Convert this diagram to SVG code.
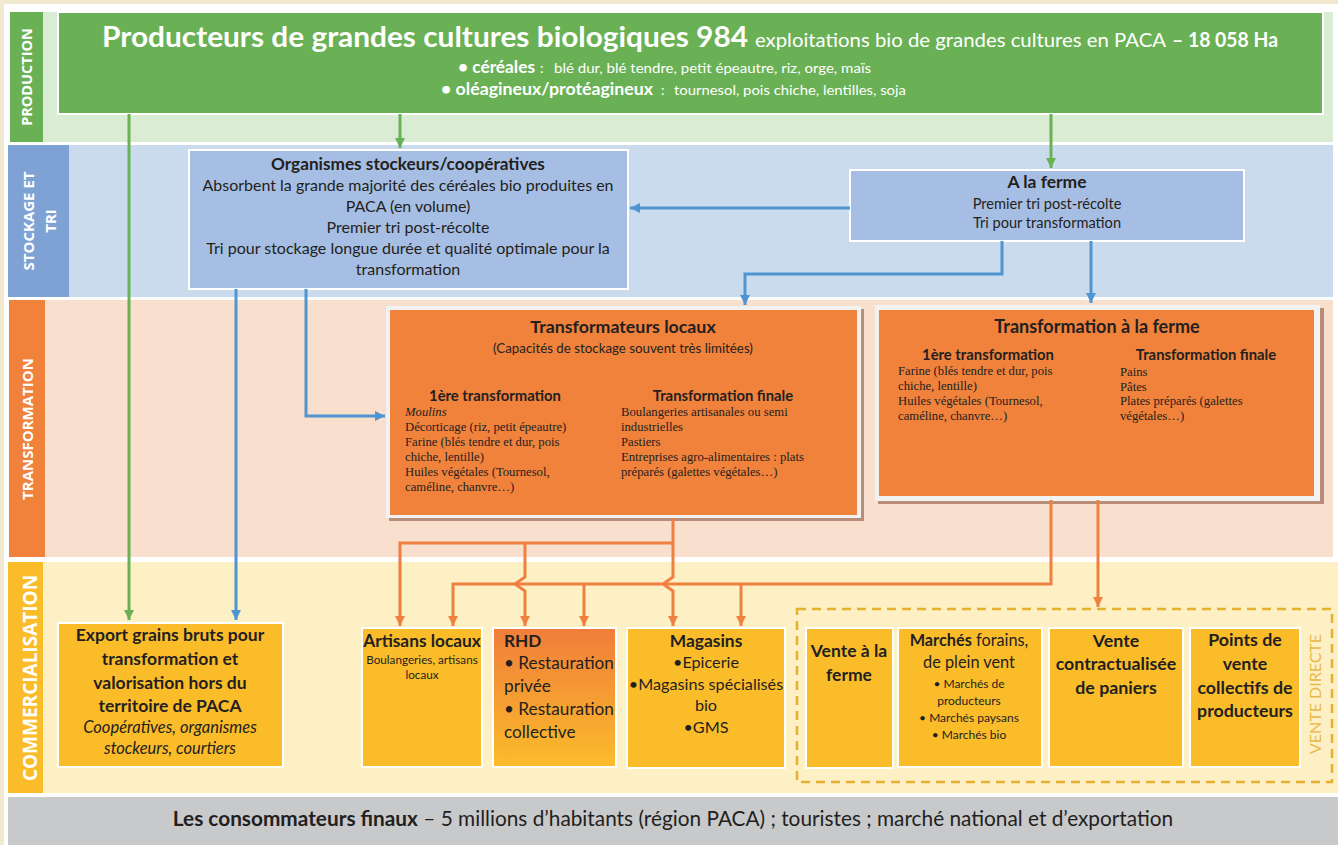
<svg xmlns="http://www.w3.org/2000/svg" width="1338" height="845" viewBox="0 0 1338 845">
<defs>
<style>
.sans{font-family:Lato,"Open Sans","Liberation Sans",sans-serif;fill:#231f20}
.w{fill:#ffffff}
.serif{font-family:"Liberation Serif","Times New Roman",serif;fill:#231f20;font-size:12.7px}
.b{font-weight:bold}
.lbl{font-family:"Open Sans","Liberation Sans",sans-serif;fill:#ffffff;text-anchor:middle;font-weight:bold}
.c{text-anchor:middle}
.box{stroke:#ffffff;stroke-width:2}
.g{stroke:#6ab155;stroke-width:3;fill:none}
.bl{stroke:#4e95d2;stroke-width:3;fill:none}
.o{stroke:#f08040;stroke-width:3;fill:none}
</style>
<marker id="ag" markerUnits="userSpaceOnUse" markerWidth="12" markerHeight="12" refX="10" refY="5" orient="auto"><path d="M0,0 L10,5 L0,10 Z" fill="#6ab155"/></marker>
<marker id="ab" markerUnits="userSpaceOnUse" markerWidth="12" markerHeight="12" refX="10" refY="5" orient="auto"><path d="M0,0 L10,5 L0,10 Z" fill="#4e95d2"/></marker>
<marker id="ao" markerUnits="userSpaceOnUse" markerWidth="12" markerHeight="12" refX="10" refY="5" orient="auto"><path d="M0,0 L10,5 L0,10 Z" fill="#f08040"/></marker>
<linearGradient id="rhd" x1="0" y1="0" x2="0" y2="1"><stop offset="0" stop-color="#f07d3a"/><stop offset="1" stop-color="#fbbc2a"/></linearGradient>
</defs>

<!-- background -->
<rect x="0" y="0" width="1338" height="845" fill="#f2ead0"/>
<rect x="4" y="4" width="1334" height="841" fill="#ffffff"/>

<!-- bands -->
<g id="band-production">
<rect x="43" y="12" width="1290" height="130" fill="#dbecd5"/>
<rect x="10" y="12" width="33" height="130" fill="#6ab155"/>
<text class="lbl" font-size="14.5" transform="translate(32,77) rotate(-90)">PRODUCTION</text>
</g>
<g id="band-stockage">
<rect x="69" y="145" width="1264" height="152" fill="#cbdbee"/>
<rect x="8" y="145" width="61" height="152" fill="#7fa2d5"/>
<text class="lbl" font-size="15" transform="translate(34,221) rotate(-90)">STOCKAGE ET</text>
<text class="lbl" font-size="15" transform="translate(56,221) rotate(-90)">TRI</text>
</g>
<g id="band-transformation">
<rect x="45" y="300" width="1288" height="257" fill="#f9dfcd"/>
<rect x="9" y="300" width="36" height="257" fill="#f0823c"/>
<text class="lbl" font-size="15" transform="translate(33,429) rotate(-90)">TRANSFORMATION</text>
</g>
<g id="band-commercialisation">
<rect x="43" y="562" width="1295" height="231" fill="#fdf0c5"/>
<rect x="8" y="562" width="35" height="231" fill="#fbbc2a"/>
<text class="lbl" font-size="19" transform="translate(37,678) rotate(-90)">COMMERCIALISATION</text>
</g>

<!-- production header -->
<g id="producteurs">
<rect x="58" y="12" width="1265" height="102" fill="#6ab155" class="box"/>
<text class="sans w b" x="102" y="47" font-size="28" textLength="646" lengthAdjust="spacingAndGlyphs">Producteurs de grandes cultures biologiques  984</text>
<text class="sans w" x="755" y="47" font-size="20" textLength="411" lengthAdjust="spacingAndGlyphs">exploitations bio de grandes cultures en PACA</text>
<text class="sans w b" x="1172" y="47" font-size="20" textLength="106" lengthAdjust="spacingAndGlyphs">– 18 058 Ha</text>
<text class="sans w b" x="458" y="73" font-size="16.5" textLength="77" lengthAdjust="spacingAndGlyphs">• céréales</text>
<text class="sans w" x="540" y="73" font-size="14">:</text>
<text class="sans w" x="554" y="73" font-size="14" textLength="317" lengthAdjust="spacingAndGlyphs">blé dur, blé tendre, petit épeautre, riz, orge, maïs</text>
<text class="sans w b" x="441" y="95" font-size="16.5" textLength="212" lengthAdjust="spacingAndGlyphs">• oléagineux/protéagineux</text>
<text class="sans w" x="661" y="95" font-size="14">:</text>
<text class="sans w" x="674" y="95" font-size="14" textLength="232" lengthAdjust="spacingAndGlyphs">tournesol, pois chiche, lentilles, soja</text>
</g>

<!-- stockage -->
<g id="organismes">
<rect x="189" y="150" width="439" height="139" fill="#a6bee3" class="box"/>
<g class="sans c" font-size="16">
<text x="408" y="170" class="b" font-size="17.2">Organismes stockeurs/coopératives</text>
<text x="408" y="191">Absorbent la grande majorité des céréales bio produites en</text>
<text x="408" y="212">PACA (en volume)</text>
<text x="408" y="233">Premier tri post-récolte</text>
<text x="408" y="254">Tri pour stockage longue durée et qualité optimale pour la</text>
<text x="408" y="275">transformation</text>
</g>
</g>
<g id="a-la-ferme">
<rect x="850" y="170" width="394" height="71" fill="#a6bee3" class="box"/>
<g class="sans c" font-size="14.6">
<text x="1047" y="188" class="b" font-size="17.5">A la ferme</text>
<text x="1047" y="209">Premier tri post-récolte</text>
<text x="1047" y="228">Tri pour transformation</text>
</g>
</g>

<!-- transformation -->
<g id="transformateurs-locaux">
<rect x="389" y="309" width="475" height="212" fill="#b98e78"/>
<rect x="386" y="306" width="475" height="212" fill="#f2f2f2"/>
<rect x="390" y="310" width="467" height="205" fill="#f0823c"/>
<g class="sans c">
<text x="623" y="333" class="b" font-size="17.8">Transformateurs locaux</text>
<text x="623" y="353" font-size="13.3">(Capacités de stockage souvent très limitées)</text>
<text x="495" y="401" class="b" font-size="14.8">1ère transformation</text>
<text x="723" y="401" class="b" font-size="14.8">Transformation finale</text>
</g>
<g class="serif">
<text x="405" y="416" font-style="italic">Moulins</text>
<text x="405" y="431">Décorticage (riz, petit épeautre)</text>
<text x="405" y="446">Farine (blés tendre et dur, pois</text>
<text x="405" y="461">chiche, lentille)</text>
<text x="405" y="476">Huiles végétales (Tournesol,</text>
<text x="405" y="491">caméline, chanvre…)</text>
<text x="621" y="416">Boulangeries artisanales ou semi</text>
<text x="621" y="431">industrielles</text>
<text x="621" y="446">Pastiers</text>
<text x="621" y="461">Entreprises agro-alimentaires : plats</text>
<text x="621" y="476">préparés (galettes végétales…)</text>
</g>
</g>
<g id="transformation-ferme">
<rect x="878" y="308" width="446" height="196" fill="#b98e78"/>
<rect x="875" y="305" width="445" height="196" fill="#f2f2f2"/>
<rect x="879" y="310" width="435" height="186" fill="#f0823c"/>
<g class="sans c">
<text x="1097" y="333" class="b" font-size="18">Transformation à la ferme</text>
<text x="988" y="360" class="b" font-size="14.8">1ère transformation</text>
<text x="1206" y="360" class="b" font-size="14.8">Transformation finale</text>
</g>
<g class="serif">
<text x="898" y="375">Farine (blés tendre et dur, pois</text>
<text x="898" y="390">chiche, lentille)</text>
<text x="898" y="405">Huiles végétales (Tournesol,</text>
<text x="898" y="420">caméline, chanvre…)</text>
<text x="1120" y="376">Pains</text>
<text x="1120" y="391">Pâtes</text>
<text x="1120" y="405">Plates préparés (galettes</text>
<text x="1120" y="420">végétales…)</text>
</g>
</g>

<!-- commercialisation -->
<g id="export">
<rect x="58" y="623" width="225" height="144" fill="#fbbc2a" class="box"/>
<g class="sans c b" font-size="17.5">
<text x="170" y="641">Export grains bruts pour</text>
<text x="170" y="665">transformation et</text>
<text x="170" y="689">valorisation hors du</text>
<text x="170" y="712">territoire de PACA</text>
</g>
<g class="sans c" font-size="16.5" font-style="italic">
<text x="170" y="733">Coopératives, organismes</text>
<text x="170" y="754">stockeurs, courtiers</text>
</g>
</g>
<g id="artisans">
<rect x="362" y="628" width="120" height="139" fill="#fbbc2a" class="box"/>
<text class="sans c b" x="422" y="647" font-size="17.3">Artisans locaux</text>
<text class="sans c" x="422" y="664" font-size="11.7">Boulangeries, artisans</text>
<text class="sans c" x="422" y="679" font-size="11.7">locaux</text>
</g>
<g id="rhd">
<rect x="493" y="628" width="123" height="139" fill="url(#rhd)" class="box"/>
<g class="sans" font-size="17.2">
<text x="504" y="647" class="b">RHD</text>
<text x="504" y="669">• Restauration</text>
<text x="504" y="692">privée</text>
<text x="504" y="715">• Restauration</text>
<text x="504" y="738">collective</text>
</g>
</g>
<g id="magasins">
<rect x="627" y="628" width="158" height="140" fill="#fbbc2a" class="box"/>
<g class="sans c" font-size="16.2">
<text x="706" y="647" class="b" font-size="17.4">Magasins</text>
<text x="706" y="668">•Epicerie</text>
<text x="706" y="690">•Magasins spécialisés</text>
<text x="706" y="711">bio</text>
<text x="706" y="733">•GMS</text>
</g>
</g>
<g id="vente-directe">
<rect x="797" y="609" width="535" height="173" fill="none" stroke="#e8b030" stroke-width="2.5" stroke-dasharray="9,6"/>
<text font-family="Lato,'Open Sans','Liberation Sans',sans-serif" font-size="16" fill="#e9b84a" text-anchor="middle" transform="translate(1321,694) rotate(-90)">VENTE DIRECTE</text>
</g>
<g id="vente-ferme">
<rect x="806" y="628" width="87" height="140" fill="#fbbc2a" class="box"/>
<g class="sans c b" font-size="17.5"><text x="849" y="657">Vente à la</text><text x="849" y="681">ferme</text></g>
</g>
<g id="marches">
<rect x="898" y="628" width="144" height="139" fill="#fbbc2a" class="box"/>
<g class="sans c">
<text x="969" y="646" font-size="16.3"><tspan class="b">Marchés</tspan> forains,</text>
<text x="969" y="668" font-size="16.3">de plein vent</text>
<text x="969" y="688" font-size="12">• Marchés de</text>
<text x="969" y="705" font-size="12">producteurs</text>
<text x="969" y="722" font-size="12">• Marchés paysans</text>
<text x="969" y="739" font-size="12">• Marchés bio</text>
</g>
</g>
<g id="paniers">
<rect x="1049" y="628" width="134" height="139" fill="#fbbc2a" class="box"/>
<g class="sans c b" font-size="17.8"><text x="1116" y="647">Vente</text><text x="1116" y="670">contractualisée</text><text x="1116" y="694">de paniers</text></g>
</g>
<g id="points-vente">
<rect x="1190" y="628" width="110" height="139" fill="#fbbc2a" class="box"/>
<g class="sans c b" font-size="17.8"><text x="1245" y="646">Points de</text><text x="1245" y="670">vente</text><text x="1245" y="694">collectifs de</text><text x="1245" y="717">producteurs</text></g>
</g>

<!-- consommateurs -->
<g id="consommateurs">
<rect x="8" y="797" width="1330" height="48" fill="#c8c9cb"/>
<text class="sans c" x="673" y="826" font-size="20.8"><tspan class="b">Les consommateurs finaux</tspan> – 5 millions d’habitants (région PACA) ; touristes ; marché national et d’exportation</text>
</g>

<!-- connectors -->
<g id="connectors">
<path class="g" d="M129,114 V620" marker-end="url(#ag)"/>
<path class="g" d="M400,114 V148" marker-end="url(#ag)"/>
<path class="g" d="M1051,114 V168" marker-end="url(#ag)"/>
<path class="bl" d="M850,208 H630" marker-end="url(#ab)"/>
<path class="bl" d="M1002,241 V274 H745 V305" marker-end="url(#ab)"/>
<path class="bl" d="M1091,241 V303" marker-end="url(#ab)"/>
<path class="bl" d="M236,289 V620" marker-end="url(#ab)"/>
<path class="bl" d="M306,289 V416 H385" marker-end="url(#ab)"/>
<path class="o" d="M673,518 V543 H400 V626" marker-end="url(#ao)"/>
<path class="o" d="M525,543 V577 L515,584 L525,591 V626" marker-end="url(#ao)"/>
<path class="o" d="M673,543 V577 L663,584 L673,591 V626" marker-end="url(#ao)"/>
<path class="o" d="M1051,500 V584 H453 V626" marker-end="url(#ao)"/>
<path class="o" d="M584,584 V626" marker-end="url(#ao)"/>
<path class="o" d="M741,584 V626" marker-end="url(#ao)"/>
<path class="o" d="M1098,500 V607" marker-end="url(#ao)"/>
</g>
</svg>
